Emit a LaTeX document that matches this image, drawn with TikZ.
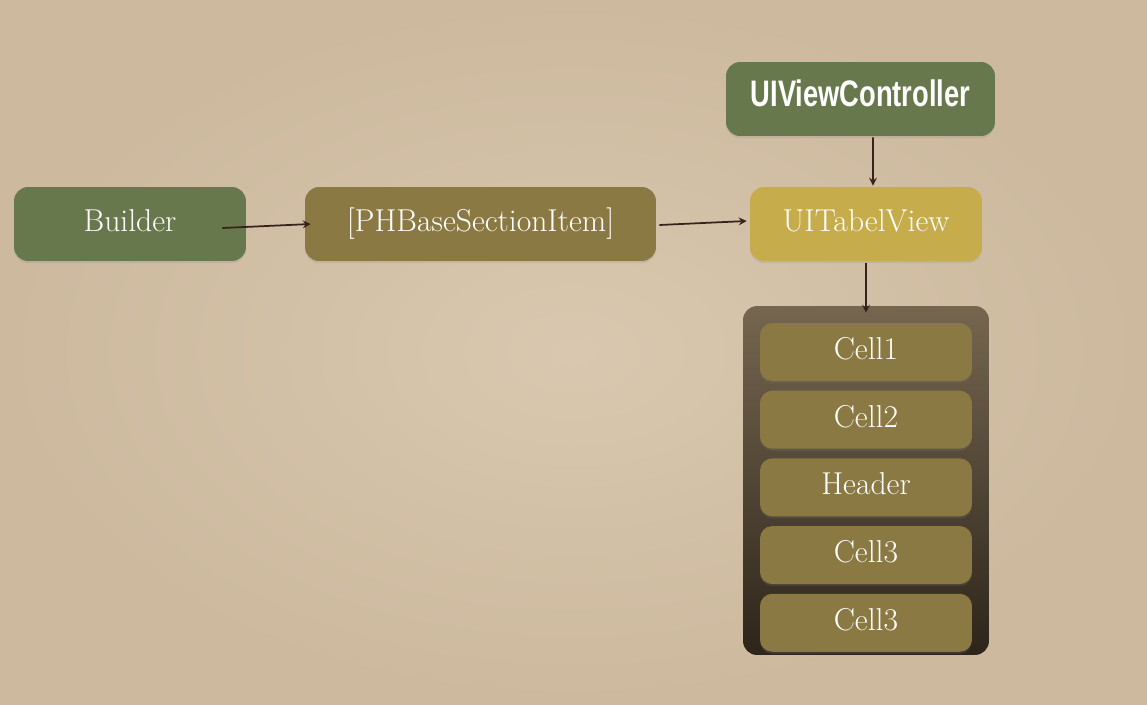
\documentclass[tikz,border=0pt]{standalone}
\usepackage{fontspec}
\newfontfamily\ctrlfont[FakeStretch=0.74]{Liberation Sans}
\definecolor{paperbg}{RGB}{217,200,175}
\definecolor{paperedge}{RGB}{204,185,158}
\definecolor{mossgreen}{RGB}{103,121,76}
\definecolor{olivebrown}{RGB}{139,121,68}
\definecolor{mustard}{RGB}{198,172,74}
\definecolor{stacktop}{RGB}{118,102,80}
\definecolor{stackbottom}{RGB}{45,37,26}
\definecolor{arrowbrown}{RGB}{55,35,28}
\usetikzlibrary{shapes,arrows,positioning,calc,shadows}

\begin{document}
\begin{tikzpicture}[
            x=0.02cm, y=-0.02cm,
            every node/.style={font=\fontsize{18}{21}\selectfont, text=white, inner sep=0pt,
                               text height=0.45cm, text depth=0.15cm},
            softshadow/.style={drop shadow={shadow xshift=0pt, shadow yshift=-1.2pt, opacity=0.2}},
            greenbox/.style={rectangle, rounded corners=8pt, fill=mossgreen, softshadow,
                             minimum width=4.64cm, minimum height=1.48cm},
            itembox/.style={rectangle, rounded corners=8pt, fill=olivebrown, softshadow,
                            minimum width=7.02cm, minimum height=1.48cm},
            viewbox/.style={rectangle, rounded corners=8pt, fill=mustard, softshadow,
                            minimum width=4.64cm, minimum height=1.48cm},
            stackbox/.style={rectangle, rounded corners=8pt, top color=stacktop, bottom color=stackbottom,
                             minimum width=4.92cm, minimum height=6.98cm},
            cellbox/.style={rectangle, rounded corners=7pt, fill=olivebrown, softshadow,
                            minimum width=4.24cm, minimum height=1.16cm},
            arrow/.style={->,>=stealth,line width=1pt,color=arrowbrown}
        ]

        % paper background
        \useasboundingbox (0,0) rectangle (1147,704);
        \shade[inner color=paperbg, outer color=paperedge] (0,0) rectangle (1147,704);

        \node[greenbox] (builder) at (130,224) {Builder};
        \node[itembox] (items) at (480.5,224) {[PHBaseSectionItem]};
        \node[viewbox] (tableview) at (866,224) {UITabelView};
        \node[greenbox, minimum width=5.38cm, font=\ctrlfont\bfseries\fontsize{21}{24}\selectfont] (controller) at (860.5,99) {UIViewController};

        % table stack
        \node[stackbox] (stack) at (866,480.5) {};
        \node[cellbox] (cellone) at (866,352) {Cell1};
        \node[cellbox, below=0.18cm of cellone] (celltwo) {Cell2};
        \node[cellbox, below=0.18cm of celltwo] (header) {Header};
        \node[cellbox, below=0.18cm of header] (cellthree) {Cell3};
        \node[cellbox, below=0.18cm of cellthree] (cellfour) {Cell3};

        \draw[arrow] ($(builder.east)+(-24,4)$) -- ($(items.west)+(6,0)$);
        \draw[arrow] ($(items.east)+(3,1)$) -- ($(tableview.west)+(-3,-3)$);
        \draw[arrow] ($(controller.south)+(12.5,1)$) -- ($(tableview.north)+(7,-1)$);
        \draw[arrow] ($(tableview.south)+(0,2)$) -- ($(stack.north)+(0,7)$);

        \end{tikzpicture}
\end{document}
